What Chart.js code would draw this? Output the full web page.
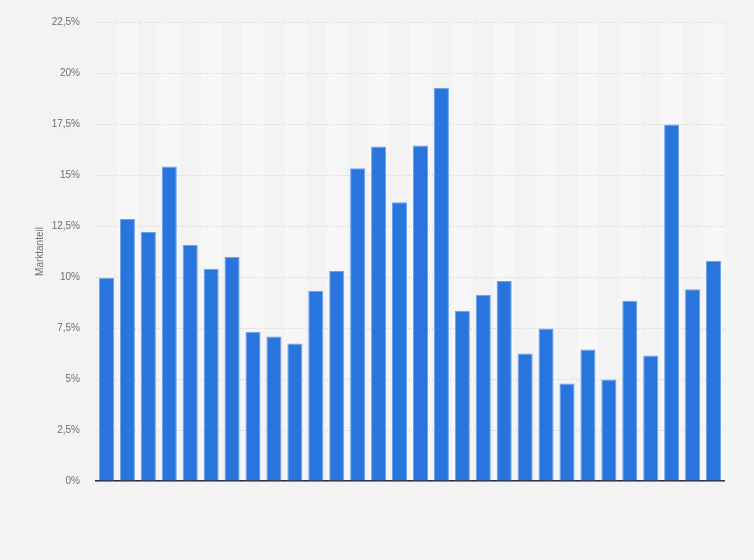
<!DOCTYPE html>
<html>
<head>
<meta charset="utf-8">
<script src="https://cdn.jsdelivr.net/npm/chart.js@4/dist/chart.umd.min.js"></script>
<style>
  html, body { margin: 0; padding: 0; background: #f3f3f3; }
  #wrap { width: 754px; height: 560px; }
</style>
</head>
<body>
<div id="wrap"><canvas id="c" width="754" height="560"></canvas></div>
<script>
const categories = ["1","2","3","4","5","6","7","8","9","10","11","12","13","14","15","16","17","18","19","20","21","22","23","24","25","26","27","28","29","30"];
const marketShare = [9.96, 12.84, 12.2, 15.42, 11.57, 10.4, 10.98, 7.32, 7.08, 6.74, 9.32, 10.3, 15.33, 16.4, 13.67, 16.45, 19.28, 8.35, 9.13, 9.81, 6.25, 7.47, 4.78, 6.44, 4.98, 8.83, 6.15, 17.47, 9.4, 10.78];
const yTicks = [0, 2.5, 5, 7.5, 10, 12.5, 15, 17.5, 20, 22.5];
const yTitle = "Marktanteil";

const stripes = {
  id: 'stripes',
  beforeDraw(chart) {
    const ctx = chart.ctx, a = chart.chartArea, x = chart.scales.x;
    ctx.save();
    ctx.fillStyle = '#f3f3f3';
    ctx.fillRect(0, 0, chart.width, chart.height);
    ctx.fillStyle = '#f7f7f7';
    const n = categories.length;
    for (let i = 0; i < n; i++) {
      if (i % 2 === 1) {
        const c = x.getPixelForValue(i);
        const half = (a.right - a.left) / n / 2;
        ctx.fillRect(c - half, a.top, half * 2, a.bottom - a.top);
      }
    }
    ctx.restore();
  }
};

new Chart(document.getElementById('c'), {
  type: 'bar',
  data: {
    labels: categories,
    datasets: [{
      data: marketShare,
      backgroundColor: '#2876dd',
      borderColor: '#6da2ea',
      borderWidth: 1,
      barPercentage: 0.72,
      categoryPercentage: 1
    }]
  },
  options: {
    responsive: false,
    animation: false,
    devicePixelRatio: 1,
    layout: { padding: { top: 20, right: 30, bottom: 79, left: 0 } },
    plugins: { legend: { display: false }, tooltip: { enabled: false } },
    scales: {
      x: {
        grid: { display: false, drawTicks: false },
        ticks: { display: false },
        border: { display: true, color: '#2e2e2e', width: 1.5 }
      },
      y: {
        min: 0, max: 22.5,
        afterFit(scale) { scale.width = 96; },
        afterBuildTicks(scale) { scale.ticks = yTicks.map(v => ({ value: v })); },
        ticks: {
          padding: 16,
          color: '#6f6f6f',
          font: { family: 'Arial, "Liberation Sans", sans-serif', size: 10 },
          callback: v => String(v).replace('.', ',') + '%'
        },
        grid: { color: '#cccccc', lineWidth: 1, drawTicks: false },
        border: { display: false, dash: [1, 2] },
        title: {
          display: true,
          text: yTitle,
          color: '#6f6f6f',
          font: { family: 'Arial, "Liberation Sans", sans-serif', size: 10 },
          padding: { top: 34, bottom: 0 }
        }
      }
    }
  },
  plugins: [stripes]
});
</script>
</body>
</html>
